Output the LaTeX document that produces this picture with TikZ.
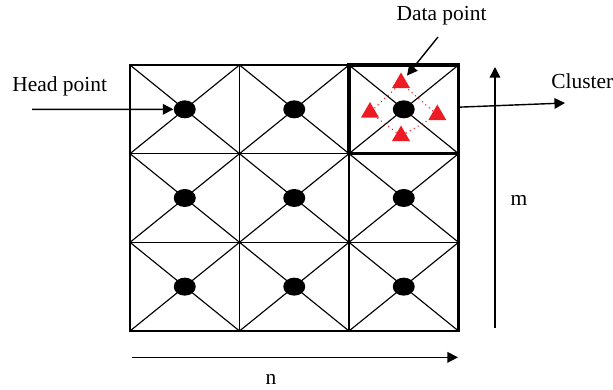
\documentclass[tikz,border=0pt]{standalone}
\usepackage{fontspec}
\setmainfont{Liberation Serif}
\usepackage{tikz}
\usetikzlibrary{arrows.meta, positioning, shapes.geometric, calc}
\definecolor{ptred}{RGB}{237,28,36}

\begin{document}
\begin{tikzpicture}[
  lbl/.style={font=\fontsize{12.2}{14}\selectfont, inner sep=0pt},
  headdot/.style={ellipse, fill=black, minimum width=0.44cm, minimum height=0.36cm, inner sep=0pt},
  datatri/.style={regular polygon, regular polygon sides=3, fill=ptred, minimum size=0.42cm, inner sep=0pt},
  arr/.style={-{Triangle[length=6pt, width=6pt]}, line width=0.8pt},
]
  \useasboundingbox (0,0) rectangle (12.26,-7.8);
  \def\cw{2.19}
  \def\ch{1.7733}

  % Cells: diagonals and head points
  \foreach \r in {0,1,2} {
    \foreach \c in {0,1,2} {
      \draw[line width=0.65pt] ({2.6+\c*\cw},{-1.3-\r*\ch}) -- ++(\cw,-\ch);
      \draw[line width=0.65pt] ({2.6+\c*\cw},{-1.3-(\r+1)*\ch}) -- ++(\cw,\ch);
      \node[headdot] (h\r\c) at ({2.6+(\c+0.5)*\cw},{-1.3-(\r+0.5)*\ch}) {};
    }
  }

  % Grid lines and border
  \foreach \k in {1,2} {
    \draw[line width=0.85pt] ({2.6+\k*\cw},-1.3) -- ++(0,{-3*\ch});
    \draw[line width=0.85pt] (2.6,{-1.3-\k*\ch}) -- ++({3*\cw},0);
  }
  \draw[line width=1.4pt] (2.6,-1.3) rectangle ++({3*\cw},{-3*\ch});

  % Cluster
  \node[draw, line width=1.8pt, minimum width=\cw cm, minimum height=\ch cm, inner sep=0pt] (cluster) at (h02) {};

  % Data points
  \node[datatri] (ttop) at (8.02,-1.66) {};
  \node[datatri] (tleft) at (7.40,-2.25) {};
  \node[datatri] (tright) at (8.746,-2.30) {};
  \node[datatri] (tbot) at (8.02,-2.72) {};
  \draw[ptred, dotted, line width=0.6pt] (ttop) -- (tleft) -- (tbot) -- (tright) -- (ttop);

  % Labels and arrows
  \node[lbl, anchor=base] (datalbl) at (8.83,-0.414) {Data point};
  \coordinate (datatail) at (8.76,-0.74);
  \draw[arr, shorten >=2pt] (datatail) -- (ttop);

  \node[lbl, anchor=base west] (headlbl) at (0.24,-1.834) {Head point};
  \coordinate (headtail) at (0.64,-2.187);
  \draw[arr] (headtail) -- (h00);

  \node[lbl, anchor=base west] (clusterlbl) at (11.02,-1.767) {Cluster};
  \coordinate (clustertip) at (11.3,-2.06);
  \draw[arr] (cluster) -- (clustertip);

  \coordinate (mlow) at (9.9,-6.56);
  \coordinate (mhigh) at (9.9,-1.34);
  \draw[arr] (mlow) -- (mhigh);
  \node[lbl, anchor=base] (mlbl) at (10.38,-4.113) {m};

  \coordinate (nlow) at (2.64,-7.147);
  \coordinate (nhigh) at (9.16,-7.147);
  \draw[arr] (nlow) -- (nhigh);
  \node[lbl, anchor=base] (nlbl) at (5.42,-7.7) {n};
\end{tikzpicture}
\end{document}
